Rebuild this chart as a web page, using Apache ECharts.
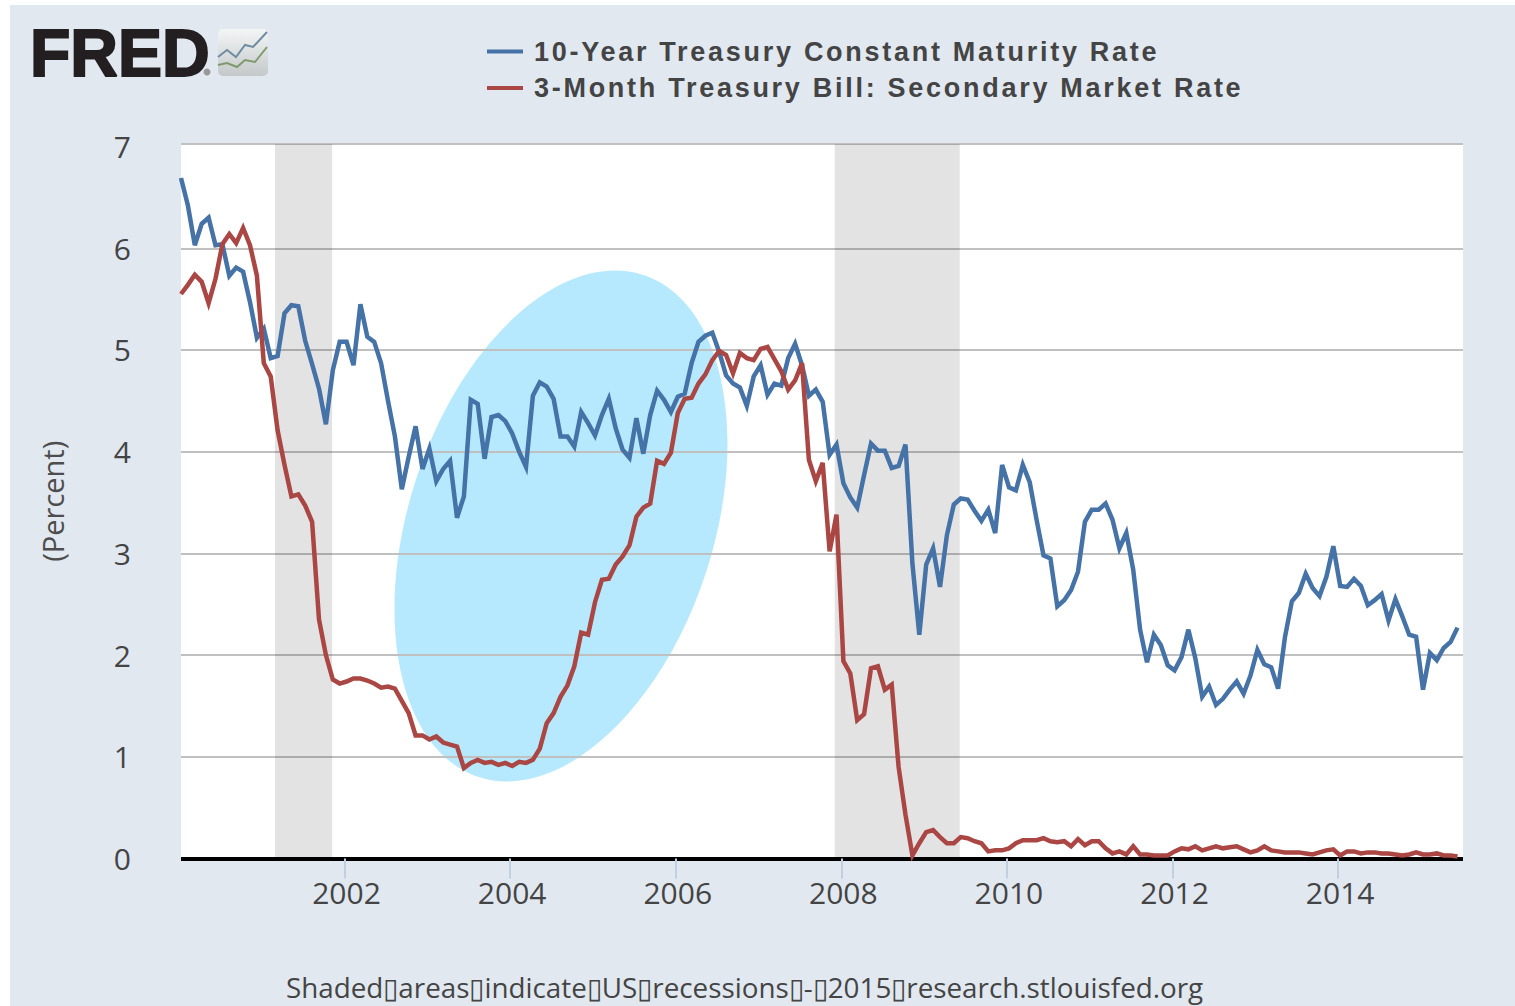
<!DOCTYPE html>
<html>
<head>
<meta charset="utf-8">
<title>FRED</title>
<script src="https://cdn.jsdelivr.net/npm/echarts@6/dist/echarts.min.js"></script>
<style>
  html, body { margin: 0; height: 100%; background: #fff; overflow: hidden; }
  #panel { position: absolute; left: 10px; top: 5px; right: 0; bottom: 0; background: #e1e8f0; }
  #chart { position: absolute; left: 0; top: 0; width: 1515px; height: 1006px; }
</style>
</head>
<body>
<div id="panel"></div>
<div id="chart"></div>
<script>
// one value per month, the first one sits a little after 1 Jan 2000
const firstMonth = 2000.025
const tenYear = [
  6.69, 6.42, 6.03, 6.24, 6.30, 6.03, 6.04, 5.73, 5.81, 5.77, 5.47, 5.12,
  5.21, 4.92, 4.94, 5.36, 5.44, 5.43, 5.09, 4.86, 4.62, 4.27, 4.80, 5.08,
  5.08, 4.85, 5.45, 5.13, 5.08, 4.87, 4.50, 4.15, 3.63, 3.95, 4.25, 3.83,
  4.03, 3.71, 3.83, 3.91, 3.35, 3.56, 4.51, 4.47, 3.93, 4.34, 4.36, 4.30,
  4.18, 4.00, 3.85, 4.55, 4.68, 4.64, 4.52, 4.15, 4.15, 4.05, 4.39, 4.28,
  4.16, 4.36, 4.52, 4.23, 4.02, 3.94, 4.33, 3.98, 4.36, 4.60, 4.51, 4.39,
  4.54, 4.57, 4.87, 5.08, 5.14, 5.17, 4.98, 4.75, 4.67, 4.63, 4.45, 4.74,
  4.85, 4.56, 4.67, 4.65, 4.92, 5.06, 4.85, 4.55, 4.61, 4.49, 3.97, 4.07,
  3.69, 3.55, 3.45, 3.77, 4.08, 4.01, 4.01, 3.84, 3.86, 4.07, 2.90, 2.20,
  2.89, 3.05, 2.67, 3.18, 3.48, 3.54, 3.53, 3.42, 3.32, 3.43, 3.20, 3.87,
  3.65, 3.62, 3.87, 3.70, 3.33, 2.98, 2.95, 2.48, 2.54, 2.64, 2.82, 3.31,
  3.43, 3.43, 3.49, 3.33, 3.05, 3.20, 2.84, 2.25, 1.93, 2.20, 2.10, 1.90,
  1.85, 1.98, 2.25, 1.97, 1.59, 1.69, 1.51, 1.57, 1.66, 1.74, 1.62, 1.80,
  2.05, 1.91, 1.88, 1.67, 2.18, 2.53, 2.61, 2.80, 2.66, 2.58, 2.77, 3.07,
  2.68, 2.67, 2.75, 2.68, 2.49, 2.54, 2.60, 2.34, 2.55, 2.38, 2.20, 2.18,
  1.66, 2.02, 1.95, 2.07, 2.13, 2.27
]
const threeMonth = [
  5.55, 5.64, 5.74, 5.67, 5.46, 5.70, 6.04, 6.14, 6.05, 6.20, 6.03, 5.73,
  4.87, 4.74, 4.21, 3.87, 3.56, 3.58, 3.47, 3.31, 2.35, 2.00, 1.76, 1.72,
  1.74, 1.77, 1.77, 1.75, 1.72, 1.68, 1.69, 1.67, 1.55, 1.43, 1.21, 1.21,
  1.17, 1.20, 1.14, 1.12, 1.10, 0.89, 0.94, 0.97, 0.94, 0.95, 0.92, 0.94,
  0.91, 0.95, 0.94, 0.97, 1.08, 1.33, 1.43, 1.59, 1.70, 1.89, 2.22, 2.20,
  2.52, 2.74, 2.75, 2.89, 2.97, 3.08, 3.36, 3.45, 3.49, 3.91, 3.88, 3.99,
  4.38, 4.52, 4.53, 4.67, 4.76, 4.90, 4.99, 4.95, 4.77, 4.97, 4.92, 4.90,
  5.01, 5.03, 4.91, 4.79, 4.61, 4.70, 4.87, 3.92, 3.71, 3.89, 3.02, 3.38,
  1.94, 1.82, 1.36, 1.42, 1.87, 1.89, 1.66, 1.71, 0.90, 0.43, 0.03, 0.15,
  0.26, 0.28, 0.21, 0.15, 0.15, 0.21, 0.20, 0.17, 0.15, 0.07, 0.08, 0.08,
  0.10, 0.15, 0.18, 0.18, 0.18, 0.20, 0.17, 0.16, 0.17, 0.12, 0.19, 0.13,
  0.17, 0.17, 0.10, 0.05, 0.07, 0.04, 0.12, 0.04, 0.04, 0.03, 0.03, 0.03,
  0.07, 0.10, 0.09, 0.12, 0.08, 0.10, 0.12, 0.10, 0.11, 0.12, 0.09, 0.06,
  0.08, 0.12, 0.08, 0.07, 0.06, 0.06, 0.06, 0.05, 0.04, 0.06, 0.08, 0.09,
  0.03, 0.07, 0.07, 0.05, 0.06, 0.06, 0.05, 0.05, 0.04, 0.03, 0.04, 0.06,
  0.04, 0.04, 0.05, 0.03, 0.03, 0.02
]
const yearTicks = [2002, 2004, 2006, 2008, 2010, 2012, 2014]
const percentTicks = [0, 1, 2, 3, 4, 5, 6, 7]
const recessions = [[2001.16, 2001.85], [2007.92, 2009.43]]

const names = ['10-Year Treasury Constant Maturity Rate', '3-Month Treasury Bill: Secondary Market Rate']
const footer = 'Shaded\u25AFareas\u25AFindicate\u25AFUS\u25AFrecessions\u25AF-\u25AF2015\u25AFresearch.stlouisfed.org'

const labelFont = '"Open Sans", sans-serif'
const yMax = 7.025 // plot top sits a bit above the 7 label
const toSeries = (values) => values.map((v, i) => [firstMonth + i / 12, v])

const chart = echarts.init(document.getElementById('chart'), null, { renderer: 'svg' })

chart.setOption({
  animation: false,
  textStyle: { fontFamily: labelFont },
  grid: { left: 181, right: 52, top: 144, height: 714.5, show: true, backgroundColor: '#fff', borderWidth: 0 },
  legend: {
    left: 487,
    top: 38,
    padding: 0,
    orient: 'vertical',
    icon: 'rect',
    itemWidth: 36,
    itemHeight: 4,
    itemGap: 9.5,
    data: names,
    textStyle: { fontFamily: '"Liberation Sans"', fontWeight: 'bold', fontSize: 27, color: '#444', padding: [0, 0, 3, 6] }
  },
  xAxis: {
    type: 'value',
    min: firstMonth,
    max: 2015.508,
    splitLine: { show: false },
    axisLine: { lineStyle: { color: '#000', width: 4, cap: 'butt' } },
    axisTick: { show: true, length: 20, customValues: yearTicks, lineStyle: { color: '#c0d0e0', width: 2 } },
    axisLabel: {
      customValues: yearTicks,
      margin: 19,
      fontSize: 30,
      color: '#444',
      padding: [0, 0, 0, 4],
      formatter: (v) => String(v)
    }
  },
  yAxis: {
    type: 'value',
    min: 0,
    max: yMax,
    name: '(Percent)',
    nameLocation: 'middle',
    nameRotate: 90,
    nameGap: 114,
    nameTextStyle: { fontSize: 29, color: '#4d4d4d' },
    axisLine: { show: false },
    axisTick: { show: false, customValues: [0, 1, 2, 3, 4, 5, 6, yMax] },
    axisLabel: { customValues: percentTicks, margin: 50, fontSize: 30, color: '#444', padding: [2, 0, 0, 0] },
    splitLine: { lineStyle: { color: '#c0c0c0', width: 2 } }
  },
  series: [
    {
      name: names[0],
      type: 'line',
      symbol: 'none',
      data: toSeries(tenYear),
      itemStyle: { color: '#4572a7' },
      lineStyle: { color: '#4572a7', width: 4.5, join: 'miter' },
      markArea: {
        silent: true,
        itemStyle: { color: 'rgba(0, 0, 0, 0.11)' },
        data: recessions.map((r) => [{ xAxis: r[0] }, { xAxis: r[1] }])
      }
    },
    {
      name: names[1],
      type: 'line',
      symbol: 'none',
      data: toSeries(threeMonth),
      itemStyle: { color: '#aa4643' },
      lineStyle: { color: '#aa4643', width: 4.5, join: 'miter' }
    }
  ],
  graphic: [
    // the highlight ellipse lies on top of the lines
    {
      type: 'ellipse',
      silent: true,
      x: 561,
      y: 526,
      rotation: -0.317,
      shape: { cx: 0, cy: 0, rx: 152.3, ry: 264.2 },
      style: { fill: 'rgba(15, 182, 252, 0.3)' }
    },
    {
      type: 'text',
      silent: true,
      x: 30,
      y: 20,
      style: {
        text: 'FRED',
        font: 'bold 66px "Liberation Sans"',
        fill: '#231f20',
        stroke: '#231f20',
        lineWidth: 2
      }
    },
    {
      type: 'circle',
      silent: true,
      shape: { cx: 207, cy: 72, r: 3.5 },
      style: { fill: '#999' }
    },
    // small logo picture
    {
      type: 'rect',
      silent: true,
      shape: { x: 218, y: 29, width: 50, height: 47, r: 5 },
      style: {
        fill: new echarts.graphic.LinearGradient(0, 0, 0, 1, [
          { offset: 0, color: '#f4f6f6' },
          { offset: 1, color: '#c4c8c8' }
        ])
      }
    },
    {
      type: 'polyline',
      silent: true,
      shape: { points: [[218, 57], [227, 50], [236, 57], [245, 45], [253, 47], [267, 32]] },
      style: { stroke: '#6f8ca3', lineWidth: 2, fill: null }
    },
    {
      type: 'polyline',
      silent: true,
      shape: { points: [[218, 65], [227, 63], [237, 67], [245, 60], [255, 62], [267, 47]] },
      style: { stroke: '#7f9a6d', lineWidth: 2, fill: null }
    },
    {
      type: 'text',
      silent: true,
      x: 286,
      y: 973,
      style: { text: footer, font: '27.8px "Open Sans"', fill: '#444' }
    }
  ]
})

// legend text is letter spaced in the original, ECharts has no option for it
document.querySelectorAll('#chart text').forEach((t) => {
  if (names.includes(t.textContent)) t.style.letterSpacing = '2.72px'
})

window.addEventListener('resize', () => chart.resize())
</script>
</body>
</html>
